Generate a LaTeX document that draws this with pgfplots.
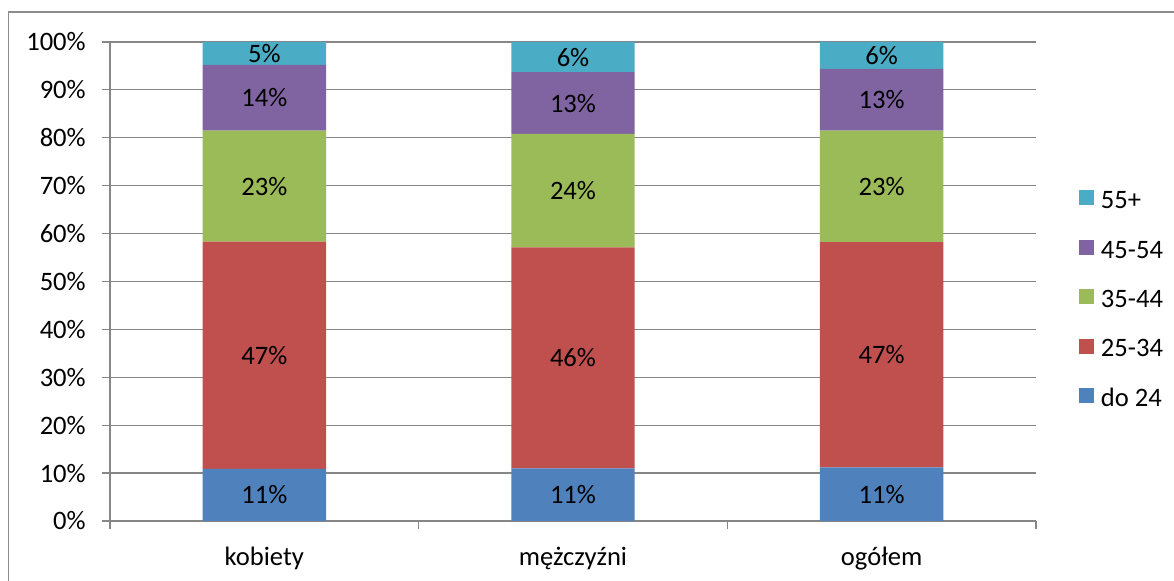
\documentclass[border=0pt]{standalone}
\usepackage{fontspec}
\setmainfont{Carlito}
\usepackage{pgfplots}
\pgfplotsset{compat=1.18}

\definecolor{cDo}{HTML}{4F81BD}
\definecolor{cA}{HTML}{C0504D}
\definecolor{cB}{HTML}{9BBB59}
\definecolor{cC}{HTML}{8064A2}
\definecolor{cD}{HTML}{4BACC6}
\definecolor{axgray}{HTML}{868686}
\definecolor{framegray}{HTML}{8C8C8C}

\begin{document}
\begin{tikzpicture}
\fontsize{13.3}{16}\selectfont
\useasboundingbox (0pt,0pt) rectangle (587pt,290.5pt);
\fill[white] (0pt,0pt) rectangle (587pt,290.5pt);
% chart frame (runs off the right and bottom edges)
\draw[framegray, line width=0.6pt] (4.25pt,-20pt) |- (620pt,284.5pt);
\begin{axis}[
  at={(55pt,30pt)}, anchor=south west,
  scale only axis, width=463pt, height=239.5pt,
  font=\fontsize{13.3}{16}\selectfont,
  ybar stacked, bar width=0.4,
  xmin=-0.5, xmax=2.5, ymin=0, ymax=100,
  axis x line=bottom, axis y line=left,
  axis line style={draw=axgray, line width=0.75pt, -},
  ymajorgrids, grid style={draw=axgray, line width=0.6pt},
  tick align=outside, major tick length=4pt,
  ytick={0,10,...,100},
  yticklabel={\pgfmathprintnumber{\tick}\%},
  yticklabel style={xshift=-3.5pt},
  /pgf/number format/assume math mode=true,
  tick style={draw=axgray, line width=0.6pt},
  xtick={-0.5,0.5,1.5,2.5}, xticklabels={},
  extra x ticks={0,1,2},
  extra x tick labels={kobiety, mężczyźni, ogółem},
  extra x tick style={major tick length=0pt, xticklabel style={yshift=-8.5pt}},
  tick label style={text=black},
  point meta=explicit,
  nodes near coords={\pgfmathprintnumber[fixed,precision=0]{\pgfplotspointmeta}\%},
  every node near coord/.append style={anchor=center, text=black},
  reverse legend,
  legend image code/.code={\fill[#1] (0pt,-1.8pt) rectangle (7.5pt,5.7pt);},
  legend style={at={(1,0.5)}, anchor=west, xshift=21.5pt, yshift=-9.25pt,
    draw=none, fill=none, inner sep=0pt, outer sep=0pt, row sep=14pt,
    nodes={inner sep=0pt, text height=8.4pt, text depth=1.6pt, anchor=west},
    /tikz/every odd column/.append style={column sep=3.5pt}},
  legend cell align=left,
]
\addplot[fill=cDo, draw=none] coordinates {(0,10.9)[10.9] (1,11.0)[11.0] (2,11.2)[11.2]};
\addplot[fill=cA, draw=none] coordinates {(0,47.4)[47.4] (1,46.1)[46.1] (2,47.0)[47.0]};
\addplot[fill=cB, draw=none] coordinates {(0,23.2)[23.2] (1,23.7)[23.7] (2,23.3)[23.3]};
\addplot[fill=cC, draw=none] coordinates {(0,13.7)[13.7] (1,12.9)[12.9] (2,12.9)[12.9]};
\addplot[fill=cD, draw=none] coordinates {(0,4.8)[4.8] (1,6.3)[6.3] (2,5.6)[5.6]};
\legend{do 24, 25-34, 35-44, 45-54, 55+}
\end{axis}
\end{tikzpicture}
\end{document}
